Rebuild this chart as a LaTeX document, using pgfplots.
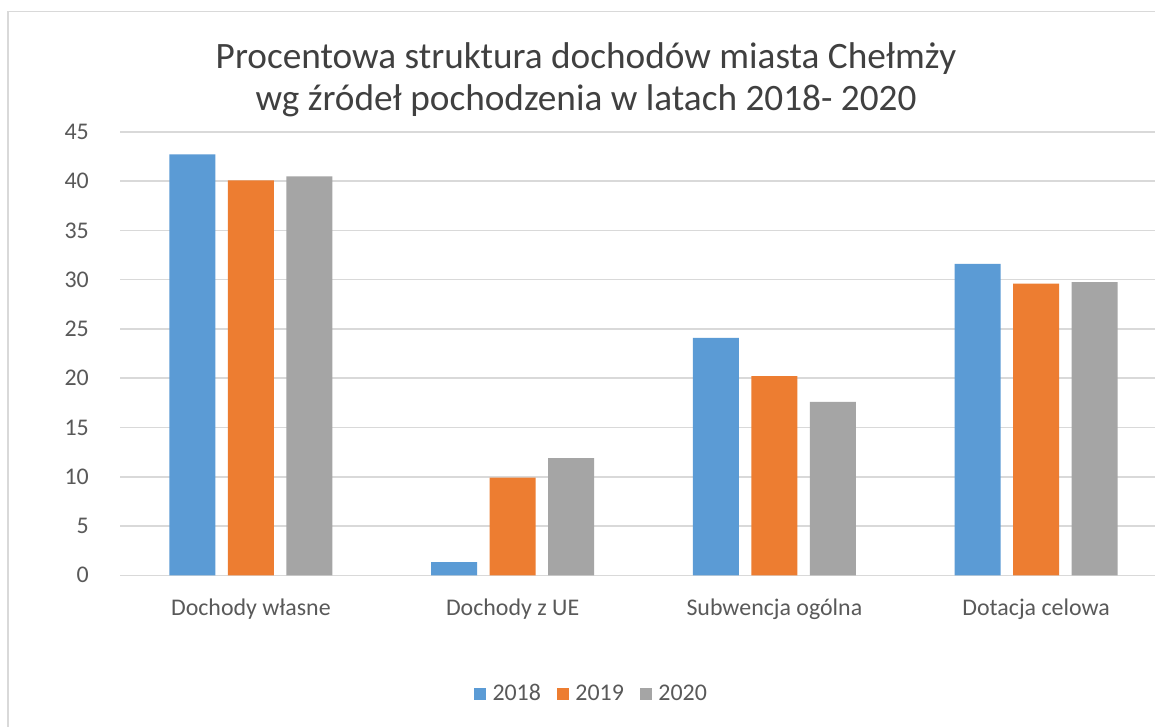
\documentclass[border=0pt]{standalone}
\usepackage{fontspec}
\setmainfont{Carlito}
\usepackage{pgfplots}
\pgfplotsset{compat=1.18}

\definecolor{c2018}{HTML}{5B9BD5}
\definecolor{c2019}{HTML}{ED7D31}
\definecolor{c2020}{HTML}{A5A5A5}
\definecolor{gridgray}{HTML}{D9D9D9}
\definecolor{txtgray}{HTML}{595959}
\definecolor{titlegray}{HTML}{404040}

\begin{document}
\begin{tikzpicture}
    % 1 px of the reference = 0.02 cm
    \useasboundingbox (0,0) rectangle (23.1cm,-14.52cm);
    \clip (0,0) rectangle (23.1cm,-14.52cm);
    \fill[white] (0,0) rectangle (23.1cm,-14.52cm);
    \draw[gridgray, line width=0.03cm] (0.16cm,-0.23cm) rectangle (23.3cm,-14.8cm);

    \node[anchor=base, text=titlegray, font=\fontsize{21.2}{25}\selectfont]
        at (11.72cm,-1.37cm) {Procentowa struktura dochodów miasta Chełmży};
    \node[anchor=base, text=titlegray, font=\fontsize{21.2}{25}\selectfont]
        at (11.72cm,-2.21cm) {wg źródeł pochodzenia w latach 2018- 2020};

    \begin{axis}[
        at={(2.4cm,-11.506cm)},
        anchor=south west,
        scale only axis,
        width=20.94cm,
        height=8.87cm,
        ybar=0.25cm,
        bar width=0.92cm,
        xmin=-0.5, xmax=3.5,
        ymin=0, ymax=45,
        ytick={0,5,...,45},
        xtick=data,
        xticklabels={Dochody własne, Dochody z UE, Subwencja ogólna, Dotacja celowa},
        axis line style={draw=none},
        tick style={draw=none},
        ymajorgrids=true,
        grid style={draw=gridgray, line width=0.03cm},
        /pgf/number format/assume math mode=true,
        tick label style={font=\fontsize{13.6}{16}\selectfont, text=txtgray},
        yticklabel style={anchor=east, xshift=-0.5cm},
        xticklabel style={anchor=north, yshift=-0.2cm},
        legend columns=3,
        legend style={
            at={(rel axis cs:0.451,-0.267)},
            anchor=center,
            draw=none,
            fill=none,
            font=\fontsize{13.6}{16}\selectfont,
            text=txtgray,
            /tikz/every odd column/.append style={column sep=0.06cm},
            /tikz/every even column/.append style={column sep=0.25cm}
        },
        legend image code/.code={
            \fill[#1] (0cm,-0.12cm) rectangle (0.24cm,0.12cm);
        },
        clip=false
    ]
        \addplot[draw=none, fill=c2018] coordinates {(0,42.7) (1,1.35) (2,24.1) (3,31.6)};
        \addplot[draw=none, fill=c2019] coordinates {(0,40.07) (1,9.9) (2,20.2) (3,29.6)};
        \addplot[draw=none, fill=c2020] coordinates {(0,40.47) (1,11.9) (2,17.6) (3,29.75)};
        \legend{2018, 2019, 2020}
    \end{axis}
\end{tikzpicture}
\end{document}
